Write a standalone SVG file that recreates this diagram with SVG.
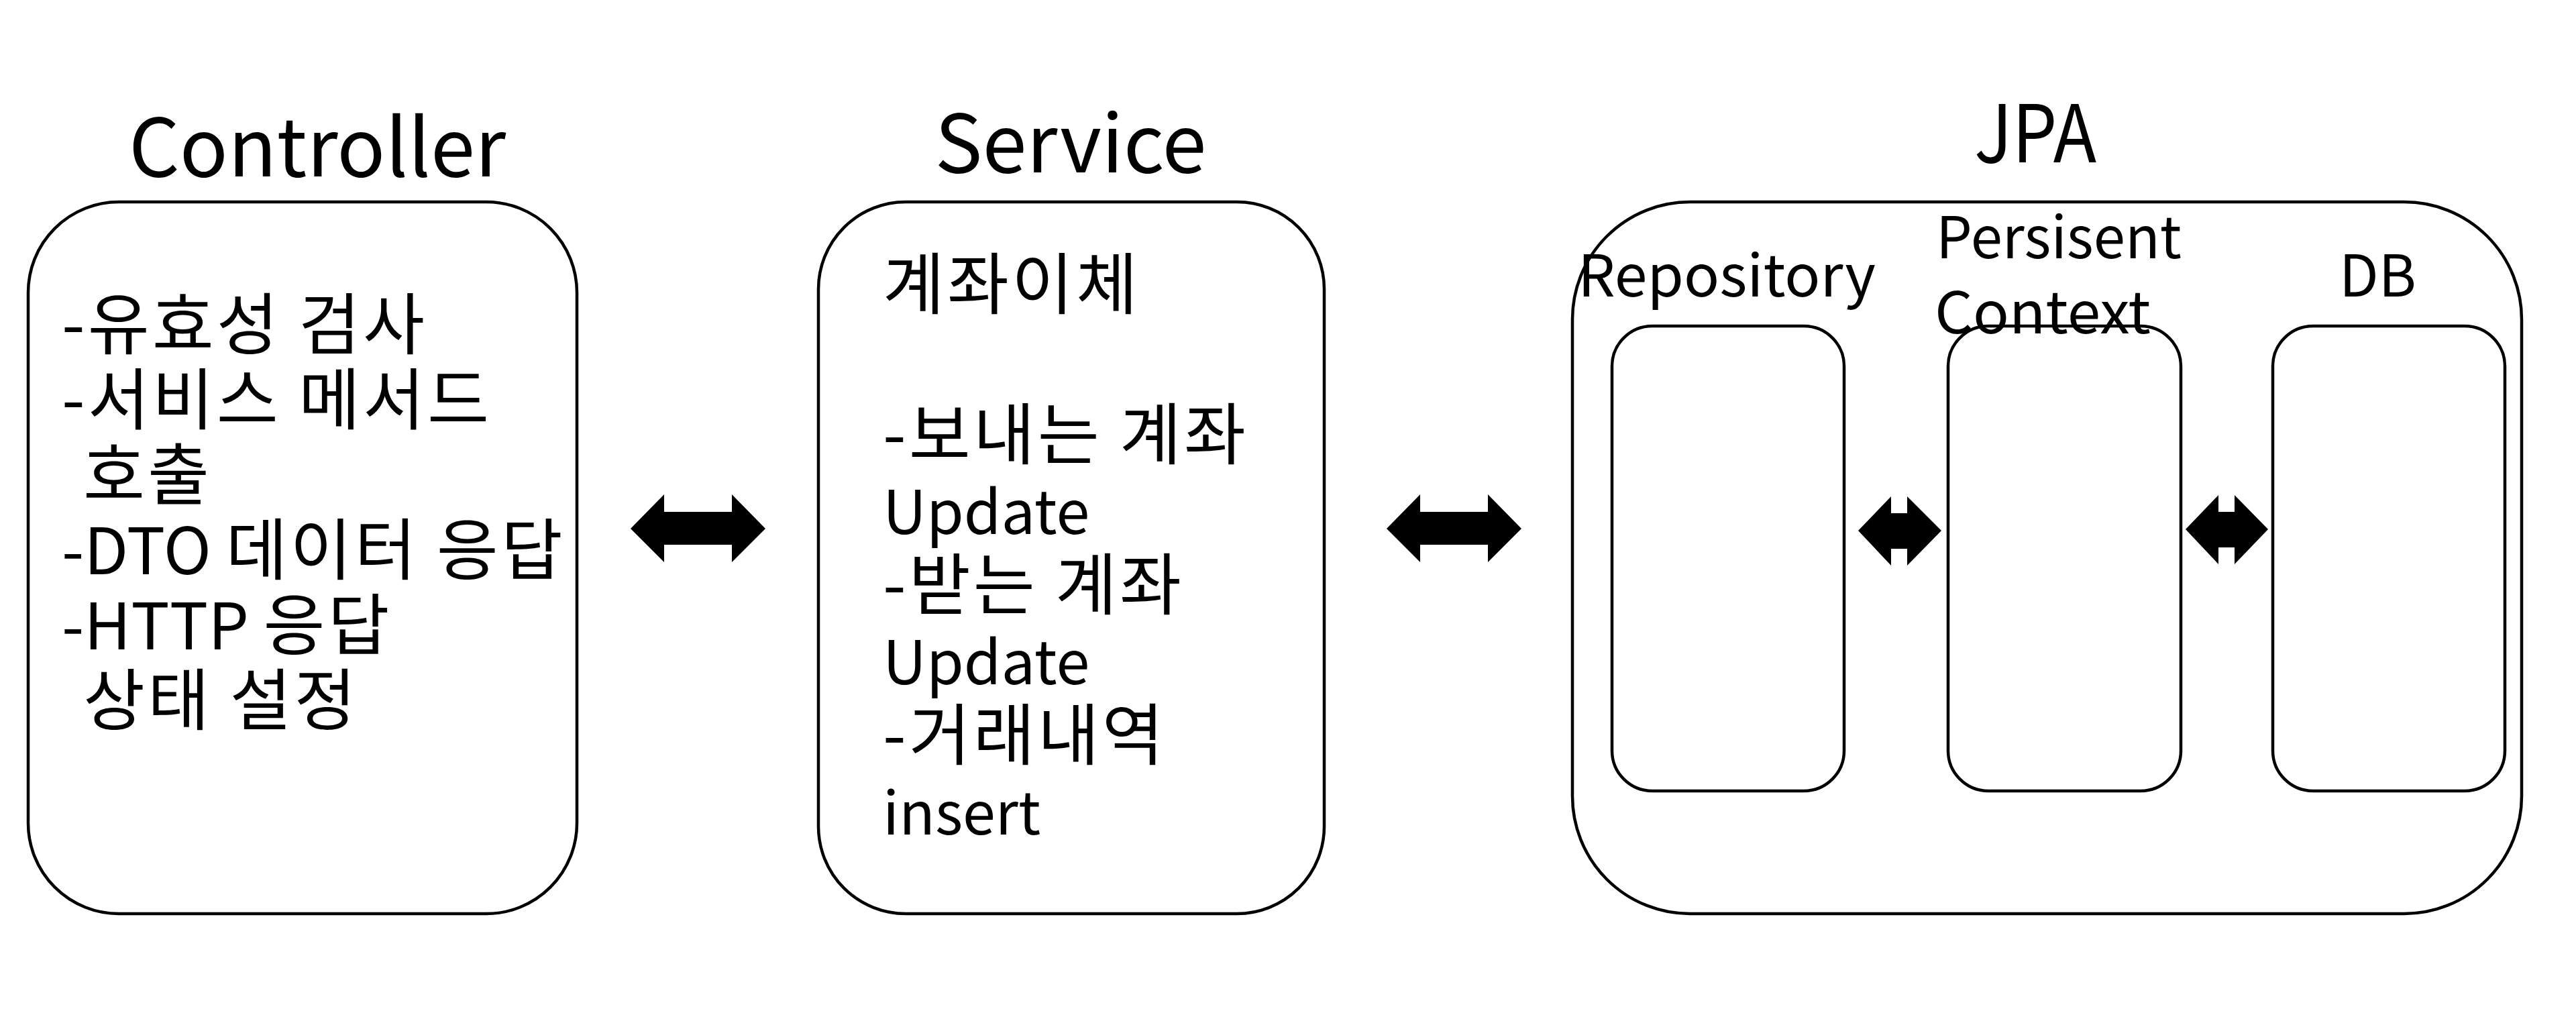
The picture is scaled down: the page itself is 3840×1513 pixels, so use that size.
<svg xmlns="http://www.w3.org/2000/svg" width="3840" height="1513" viewBox="0 0 3840 1513">
<style>
.box{fill:#fff;stroke:#000;stroke-width:4.5}
.title{font-family:"Noto Sans CJK KR","Liberation Sans",sans-serif;font-size:119px;fill:#000;text-anchor:middle}
.body{font-family:"Noto Sans CJK KR","Liberation Sans",sans-serif;font-size:100px;letter-spacing:4px;fill:#000}
.lat{font-size:90px;letter-spacing:0px}
.cap{font-size:96px;letter-spacing:0px}
.lbl{font-family:"Noto Sans CJK KR","Liberation Sans",sans-serif;font-size:86px;fill:#000}
.arrow{fill:#000;stroke:none}
</style>
<rect width="3840" height="1513" fill="#fff"/>
<g id="controller">
<text class="title" x="473" y="263">Controller</text>
<rect class="box" x="42" y="301" width="818" height="1061" rx="135" ry="135"/>
<text class="body" x="92" y="520">-유효성 검사</text>
<text class="body" x="92" y="632">-서비스 메서드</text>
<text class="body" x="124" y="744">호출</text>
<text class="body" x="92" y="856"><tspan class="cap">-DTO </tspan>데이터 응답</text>
<text class="body" x="92" y="968"><tspan class="cap">-HTTP </tspan>응답</text>
<text class="body" x="124" y="1080">상태 설정</text>
</g>
<g id="service">
<text class="title" x="1596" y="257">Service</text>
<rect class="box" x="1220" y="301" width="754" height="1061" rx="130" ry="130"/>
<text class="body" x="1316" y="460">계좌이체</text>
<text class="body" x="1316" y="684">-보내는 계좌</text>
<text class="body lat" x="1316" y="796">Update</text>
<text class="body" x="1316" y="908">-받는 계좌</text>
<text class="body lat" x="1316" y="1020">Update</text>
<text class="body" x="1316" y="1132">-거래내역</text>
<text class="body lat" x="1316" y="1244" style="font-size:88px">insert</text>
</g>
<g id="jpa">
<text class="title" x="3034" y="242" textLength="182" lengthAdjust="spacingAndGlyphs">JPA</text>
<rect class="box" x="2344" y="301" width="1415" height="1061" rx="175" ry="175"/>
</g>
<g id="repository">
<rect class="box" x="2403" y="486" width="346" height="693" rx="60" ry="60"/>
<text class="lbl" x="2352" y="442" textLength="444" lengthAdjust="spacingAndGlyphs">Repository</text>
</g>
<g id="persistent-context">
<rect class="box" x="2904" y="486" width="347" height="693" rx="60" ry="60"/>
<text class="lbl" x="2886" y="385" textLength="366" lengthAdjust="spacingAndGlyphs">Persisent</text>
<text class="lbl" x="2884" y="497" textLength="322" lengthAdjust="spacingAndGlyphs">Context</text>
</g>
<g id="db">
<rect class="box" x="3388" y="486" width="346" height="693" rx="60" ry="60"/>
<text class="lbl" x="3487" y="442" textLength="115" lengthAdjust="spacingAndGlyphs">DB</text>
</g>
<g id="connectors">
<path class="arrow" d="M940,788 L990,737 L990,763 L1091,763 L1091,737 L1141,788 L1091,838 L1091,812 L990,812 L990,838 Z"/>
<path class="arrow" d="M2067,788 L2117,737 L2117,763 L2218,763 L2218,737 L2268,788 L2218,838 L2218,812 L2117,812 L2117,838 Z"/>
<path class="arrow" d="M2770,791 L2819,740 L2819,765 L2843,765 L2843,740 L2894,791 L2843,843 L2843,818 L2819,818 L2819,843 Z"/>
<path class="arrow" d="M3258,789 L3307,738 L3307,763 L3331,763 L3331,738 L3381,789 L3331,841 L3331,816 L3307,816 L3307,841 Z"/>
</g>
</svg>
